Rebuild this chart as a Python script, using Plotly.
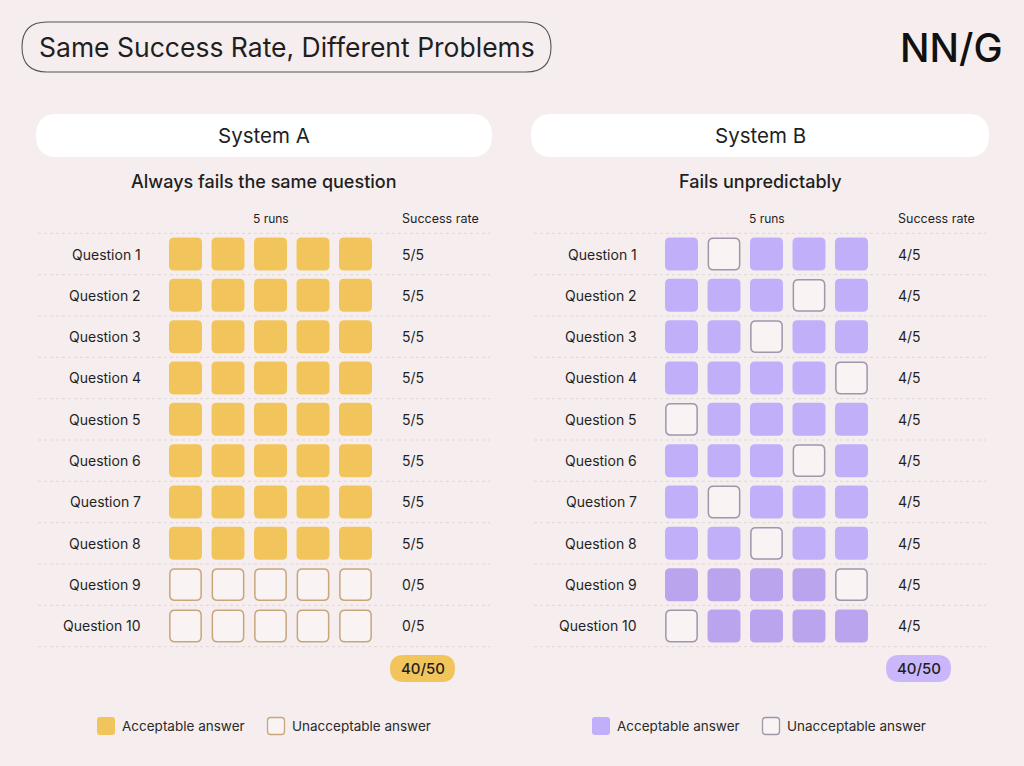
import plotly.graph_objects as go

W, H = 1024, 766

questions = ["Question 1", "Question 2", "Question 3", "Question 4", "Question 5",
             "Question 6", "Question 7", "Question 8", "Question 9", "Question 10"]
runs = [1, 2, 3, 4, 5]

# 1 = acceptable answer, 0 = unacceptable answer
system_a = [
    [1, 1, 1, 1, 1],
    [1, 1, 1, 1, 1],
    [1, 1, 1, 1, 1],
    [1, 1, 1, 1, 1],
    [1, 1, 1, 1, 1],
    [1, 1, 1, 1, 1],
    [1, 1, 1, 1, 1],
    [1, 1, 1, 1, 1],
    [0, 0, 0, 0, 0],
    [0, 0, 0, 0, 0],
]
system_b = [
    [1, 0, 1, 1, 1],
    [1, 1, 1, 0, 1],
    [1, 1, 0, 1, 1],
    [1, 1, 1, 1, 0],
    [0, 1, 1, 1, 1],
    [1, 1, 1, 0, 1],
    [1, 0, 1, 1, 1],
    [1, 1, 0, 1, 1],
    [1, 1, 1, 1, 0],
    [0, 1, 1, 1, 1],
]

systems = ["System A", "System B"]
subtitles = ["Always fails the same question", "Fails unpredictably"]
legend_labels = ["Acceptable answer", "Unacceptable answer"]
title = "Same Success Rate, Different Problems"

BG = "#f6eeee"
INK = "#1f1f1f"
FONT = "Inter"

DX, DY = 42.5, 41.33
CY0 = 254
TOP, BOTTOM = 190, 700


def rrect(x0, y0, x1, y1, rx, ry):
    sx = 1 if x1 > x0 else -1
    sy = 1 if y1 > y0 else -1
    rx, ry = rx * sx, ry * sy
    return (f"M{x0 + rx},{y0} L{x1 - rx},{y0} Q{x1},{y0} {x1},{y0 + ry} "
            f"L{x1},{y1 - ry} Q{x1},{y1} {x1 - rx},{y1} L{x0 + rx},{y1} "
            f"Q{x0},{y1} {x0},{y1 - ry} L{x0},{y0 + ry} Q{x0},{y0} {x0 + rx},{y0} Z")


def px(x):
    return x / W


def py(y):
    return 1 - y / H


def note(text, x, y, xref="paper", yref="paper", xanchor="center", size=14, color=INK, weight=None):
    f = dict(size=size, color=color)
    if weight:
        f["weight"] = weight
    return dict(xref=xref, yref=yref, x=x, y=y, text=text, showarrow=False,
                xanchor=xanchor, yanchor="middle", font=f)


panels = [
    dict(grid=system_a, xa="x", ya="y", cx0=185.5, left=20, right=500,
         fill=["#f2c55c"] * 10, edge="#c8a67c", badge="#f2c55c",
         line0=38, line1=490, off=0, pill=(36, 492)),
    dict(grid=system_b, xa="x2", ya="y2", cx0=681.5, left=516, right=1004,
         fill=["#c1affa"] * 8 + ["#b9a4ee"] * 2, edge="#a095ab", badge="#cab7fb",
         line0=534, line1=986, off=496, pill=(531, 989)),
]

fig = go.Figure()
shapes = []
annotations = []

for k, p in enumerate(panels):
    cx0 = p["cx0"]
    xd = lambda v, c=cx0: 1 + (v - c) / DX
    yd = lambda v: 1 + (v - CY0) / DY
    n = "" if k == 0 else str(k + 1)
    fig.update_layout(**{
        "xaxis" + n: dict(domain=[p["left"] / W, p["right"] / W],
                          range=[xd(p["left"]), xd(p["right"])],
                          visible=False, fixedrange=True, anchor="y" + n),
        "yaxis" + n: dict(domain=[1 - BOTTOM / H, 1 - TOP / H],
                          range=[yd(BOTTOM), yd(TOP)],
                          visible=False, fixedrange=True, anchor="x" + n),
    })

    # dotted separators
    for b in range(len(questions) + 1):
        shapes.append(dict(type="line", xref=p["xa"], yref=p["ya"],
                           x0=xd(p["line0"]), x1=xd(p["line1"]), y0=b + 0.5, y1=b + 0.5,
                           line=dict(color="#e0d7d7", width=1, dash="dot"), layer="below"))

    hx, hy = 16.5 / DX, 16.5 / DY
    rx, ry = 5 / DX, 5 / DY
    hover_x, hover_y, hover_t = [], [], []
    for qi, row in enumerate(p["grid"]):
        q = qi + 1
        for r, ok in zip(runs, row):
            if ok:
                shapes.append(dict(type="path", xref=p["xa"], yref=p["ya"],
                                   path=rrect(r - hx, q - hy, r + hx, q + hy, rx, ry),
                                   fillcolor=p["fill"][qi], line=dict(width=0)))
            else:
                shapes.append(dict(type="path", xref=p["xa"], yref=p["ya"],
                                   path=rrect(r - hx + 0.02, q - hy + 0.02, r + hx - 0.02, q + hy - 0.02, rx, ry),
                                   fillcolor="#f9f3f3", line=dict(width=1.5, color=p["edge"])))
            hover_x.append(r)
            hover_y.append(q)
            hover_t.append(f"{questions[qi]}, run {r}: " + ("acceptable" if ok else "unacceptable"))
        annotations.append(note(questions[qi], xd(143 + p["off"]), q, p["xa"], p["ya"], "right"))
        annotations.append(note(f"{sum(row)}/{len(row)}", xd(400 + p["off"]), q, p["xa"], p["ya"], "left"))

    fig.add_trace(go.Scatter(x=hover_x, y=hover_y, text=hover_t, mode="markers",
                             marker=dict(size=33, symbol="square", opacity=0),
                             hoverinfo="text", showlegend=False,
                             xaxis=p["xa"], yaxis=p["ya"]))

    # column headers
    annotations.append(note("5 runs", 3, yd(218), p["xa"], p["ya"], size=12))
    annotations.append(note("Success rate", xd(400 + p["off"]), yd(218), p["xa"], p["ya"], "left", size=12.5))

    # total badge
    total = sum(sum(row) for row in p["grid"])
    count = sum(len(row) for row in p["grid"])
    bx = xd(422.5 + p["off"])
    by = yd(668.5)
    bw, bh = 32.5 / DX, 13.5 / DY
    shapes.append(dict(type="path", xref=p["xa"], yref=p["ya"],
                       path=rrect(bx - bw, by - bh, bx + bw, by + bh, 13.5 / DX, 13.5 / DY),
                       fillcolor=p["badge"], line=dict(width=0)))
    annotations.append(note(f"{total}/{count}", bx, by, p["xa"], p["ya"], size=15, weight=500))

    # system header pill
    l0, l1 = p["pill"]
    shapes.append(dict(type="path", xref="paper", yref="paper",
                       path=rrect(px(l0), py(114), px(l1), py(157), 21.5 / W, 21.5 / H),
                       fillcolor="#ffffff", line=dict(width=0), layer="below"))
    annotations.append(note(systems[k], px((l0 + l1) / 2), py(135.5), size=20.5))
    annotations.append(note(subtitles[k], px((l0 + l1) / 2), py(181), size=18, weight=500))

    # legend
    for j, lab in enumerate(legend_labels):
        sx0 = 97 + p["off"] - (1 if k else 0) + j * 170
        if j == 0:
            shapes.append(dict(type="path", xref="paper", yref="paper",
                               path=rrect(px(sx0), py(717), px(sx0 + 18), py(735), 3 / W, 3 / H),
                               fillcolor=p["fill"][0], line=dict(width=0)))
        else:
            shapes.append(dict(type="path", xref="paper", yref="paper",
                               path=rrect(px(sx0 + 0.5), py(717.5), px(sx0 + 17.5), py(734.5), 3 / W, 3 / H),
                               fillcolor="#f9f3f3", line=dict(width=1.3, color=p["edge"])))
        annotations.append(note(lab, px(sx0 + 23), py(726), xanchor="left", size=13.5, color="#2a2a2a"))

# title pill
shapes.append(dict(type="path", xref="paper", yref="paper",
                   path=rrect(px(22), py(22), px(551), py(72), 25 / W, 25 / H),
                   fillcolor="rgba(0,0,0,0)", line=dict(width=1.1, color="#555555")))
annotations.append(note(title, px(286.5), py(47), size=26.5))
annotations.append(note("NN/G", px(1005), py(47), xanchor="right", size=39, color="#111111", weight=500))

fig.update_layout(
    width=W, height=H,
    margin=dict(l=0, r=0, t=0, b=0),
    paper_bgcolor=BG, plot_bgcolor=BG,
    font=dict(family=FONT, color=INK),
    shapes=shapes, annotations=annotations,
    showlegend=False,
)

fig.write_html("out.html", config={"displayModeBar": False},
               post_script="document.body.style.margin='0';")
